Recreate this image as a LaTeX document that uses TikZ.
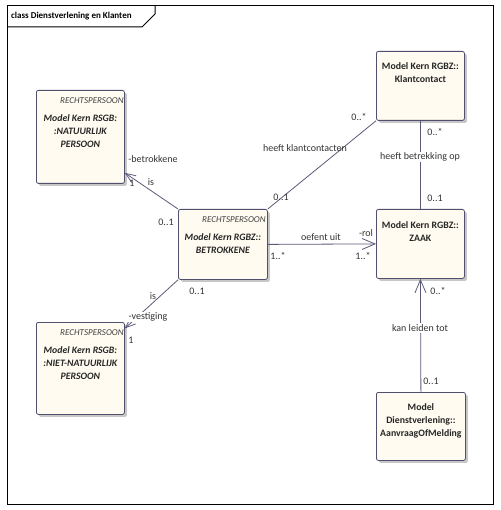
\documentclass[tikz,border=0pt]{standalone}
\usepackage{fontspec}
\setmainfont{Carlito}
\usetikzlibrary{positioning,arrows.meta,shadows}
\definecolor{klassevul}{RGB}{255,251,240}
\definecolor{klasserand}{RGB}{80,80,110}
\definecolor{lijnkleur}{RGB}{90,90,120}
\newcommand{\rgbz}{Model Kern RGBZ::}

\begin{document}
\begin{tikzpicture}[x=1pt,y=-1pt,
	klasse/.style={draw=klasserand,fill=klassevul,line width=0.8pt,rounded corners=2pt,
		minimum width=88pt,anchor=north west,
		drop shadow={shadow xshift=2.5pt,shadow yshift=-2.5pt,fill=black!22,opacity=1}},
	stereo/.style={inner sep=0pt,text=black!75,font=\fontsize{9}{10}\selectfont\itshape},
	naam/.style={inner sep=0pt,align=center,text=black!85,font=\fontsize{9.8}{13}\selectfont\bfseries},
	abstract/.style={naam,font=\fontsize{9.8}{13}\selectfont\bfseries\itshape},
	lbl/.style={inner sep=1pt,text=black!80,font=\fontsize{10}{11}\selectfont},
	assoc/.style={draw=lijnkleur,line width=0.8pt},
	pijl/.style={assoc,-{Straight Barb[length=13pt,width=11pt,line width=0.8pt]}},
	klpijl/.style={assoc,-{Straight Barb[length=10pt,width=8pt,line width=0.8pt]}}]
	\useasboundingbox (0,0) rectangle (500,510);
	% kader
	\draw[line width=1pt] (7,6) rectangle (493,504);
	\draw[line width=1pt] (7,27) -- (142,27) -- (155,14) -- (155,6);
	\node[anchor=west,inner sep=0pt,font=\fontsize{9}{10}\selectfont\bfseries] (titel) at (11,16) {class Dienstverlening en Klanten};

	% klassen
	\node[klasse,minimum height=93pt] (nat) at (36,90) {};
	\node[stereo,below left=7pt and 1pt of nat.north east] (nat-s) {RECHTSPERSOON};
	\node[abstract,below=24pt of nat.north] (nat-n) {Model Kern RSGB:\\:NATUURLIJK\\PERSOON};

	\node[klasse,minimum height=92pt] (niet) at (36,322) {};
	\node[stereo,below left=7pt and 1pt of niet.north east] (niet-s) {RECHTSPERSOON};
	\node[abstract,below=24pt of niet.north] (niet-n) {Model Kern RSGB:\\:NIET-NATUURLIJK\\PERSOON};

	\node[klasse,minimum height=70pt,minimum width=89pt] (betr) at (178,209) {};
	\node[stereo,below left=7pt and 2pt of betr.north east] (betr-s) {RECHTSPERSOON};
	\node[abstract,below=24pt of betr.north] (betr-n) {\rgbz\\BETROKKENE};

	\node[klasse,minimum height=69pt] (klant) at (376,51) {};
	\node[naam,below=11pt of klant.north] (klant-n) {\rgbz\\Klantcontact};

	\node[klasse,minimum height=69pt] (zaak) at (376,209) {};
	\node[naam,below=12pt of zaak.north] (zaak-n) {\rgbz\\ZAAK};

	\node[klasse,minimum height=68pt,minimum width=89pt] (aanv) at (376,392) {};
	\node[naam,below=11pt of aanv.north] (aanv-n) {Model\\Dienstverlening::\\AanvraagOfMelding};

	% associaties
	\draw[klpijl] (betr.north west) -- (nat.-39);
	\draw[klpijl] (betr.south west) -- (niet.42);
	\draw[assoc] (betr.north east) -- (klant.south west);
	\draw[assoc] (klant.south) -- (zaak.north);
	\draw[pijl] (betr.east) -- (zaak.west);
	\draw[pijl] (aanv.north) -- (zaak.south);

	% rollen en multipliciteiten
	\node[lbl] (l-betr) at (153,159) {-betrokkene};
	\node[lbl] (l-is1) at (151,182) {is};
	\node[lbl] (l-een1) at (132,183) {1};
	\node[lbl] (l-nul1) at (166,222) {0..1};
	\node[lbl] (l-nul2) at (281,197) {0..1};
	\node[lbl] (l-hkc) at (305,148) {heeft klantcontacten};
	\node[lbl] (l-nm1) at (359,117) {0..*};
	\node[lbl] (l-nm2) at (435,132) {0..*};
	\node[lbl,fill=white] (l-hbo) at (420,157) {heeft betrekking op};
	\node[lbl] (l-nul3) at (435,198) {0..1};
	\node[lbl] (l-oef) at (321,237) {oefent uit};
	\node[lbl] (l-rol) at (366,233) {-rol};
	\node[lbl] (l-em1) at (278,256) {1..*};
	\node[lbl] (l-em2) at (363,256) {1..*};
	\node[lbl] (l-nul4) at (197,291) {0..1};
	\node[lbl] (l-is2) at (153,296) {is};
	\node[lbl,fill=white] (l-ves) at (148,317) {-vestiging};
	\node[lbl] (l-een2) at (131,340) {1};
	\node[lbl] (l-nm3) at (438,291) {0..*};
	\node[lbl,fill=white] (l-klt) at (420,328) {kan leiden tot};
	\node[lbl] (l-nul5) at (431,381) {0..1};
\end{tikzpicture}
\end{document}
